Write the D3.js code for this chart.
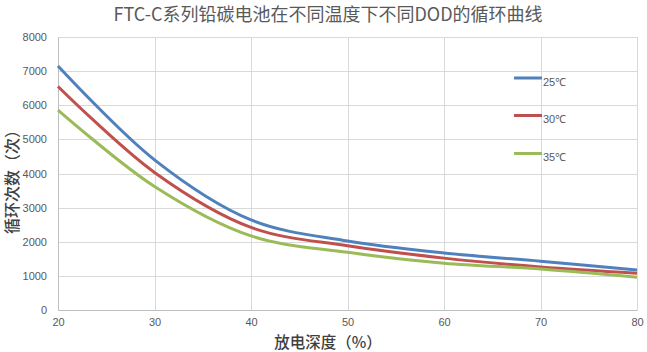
<!DOCTYPE html>
<html>
<head>
<meta charset="utf-8">
<script src="https://cdn.jsdelivr.net/npm/d3@7"></script>
<style>
  body { margin: 0; background: #fff; }
  text { font-family: "Noto Sans CJK SC", "Noto Sans", sans-serif; }
</style>
</head>
<body>
<div id="chart"></div>
<script>
// chart data
var dod = [20, 30, 40, 50, 60, 70, 80];
var cycles25 = [7150, 4400, 2640, 2020, 1670, 1430, 1170];
var cycles30 = [6550, 4030, 2420, 1880, 1520, 1260, 1080];
var cycles35 = [5860, 3620, 2170, 1690, 1370, 1200, 960];
var seriesNames = ["25℃", "30℃", "35℃"];
var xTicks = [20, 30, 40, 50, 60, 70, 80];
var yTicks = [0, 1000, 2000, 3000, 4000, 5000, 6000, 7000, 8000];

var svgWidth = 647;
var svgHeight = 352;
var margin = { top: 37, right: 10, bottom: 42, left: 58 };
var width = 637 - margin.left;
var height = 310 - margin.top;

var svg = d3.select("#chart")
    .append("svg")
    .attr("width", svgWidth)
    .attr("height", svgHeight);

var chartGroup = svg.append("g")
    .attr("transform", `translate(${margin.left}, ${margin.top})`);

var x = d3.scaleLinear().domain([20, 80]).range([0, width]);
var y = d3.scaleLinear().domain([0, 8000]).range([height, 0]);

// gridlines
chartGroup.append("g")
    .selectAll("line")
    .data(yTicks.filter(d => d > 0))
    .enter()
    .append("line")
    .attr("x1", 0)
    .attr("x2", width)
    .attr("y1", d => Math.round(y(d)) + 0.5)
    .attr("y2", d => Math.round(y(d)) + 0.5)
    .attr("stroke", "#d9d9d9");

chartGroup.append("g")
    .selectAll("line")
    .data(xTicks.filter(d => d > 20))
    .enter()
    .append("line")
    .attr("x1", d => Math.round(x(d)) + 0.5)
    .attr("x2", d => Math.round(x(d)) + 0.5)
    .attr("y1", 0)
    .attr("y2", height)
    .attr("stroke", "#d9d9d9");

// axes
var bottomAxis = d3.axisBottom(x).tickValues(xTicks).tickSize(0).tickPadding(8);
var leftAxis = d3.axisLeft(y).tickValues(yTicks).tickFormat(d3.format("d")).tickSize(0).tickPadding(11);

var gx = chartGroup.append("g")
    .attr("transform", `translate(0, ${height})`)
    .call(bottomAxis);
var gy = chartGroup.append("g").call(leftAxis);

[gx, gy].forEach(function (g) {
    g.select(".domain").attr("stroke", "#bfbfbf").attr("stroke-width", 1);
    g.selectAll("text")
        .attr("fill", "#595959")
        .style("font-size", "11px")
        .style("font-family", "'Liberation Sans Narrow', 'Liberation Sans', sans-serif");
});

// lines
var colors = ["#4f81bd", "#c0504d", "#9bbb59"];
var allSeries = [cycles25, cycles30, cycles35];

var line = d3.line()
    .x((d, i) => x(dod[i]))
    .y(d => y(d))
    .curve(d3.curveCatmullRom.alpha(0.5));

chartGroup.selectAll(".series")
    .data(allSeries)
    .enter()
    .append("path")
    .attr("class", "series")
    .attr("d", d => line(d))
    .attr("fill", "none")
    .attr("stroke", (d, i) => colors[i])
    .attr("stroke-width", 3)
    .attr("stroke-linejoin", "round");

// legend
var legendY = [78, 115.5, 153.5];
var legend = svg.append("g");
seriesNames.forEach(function (name, i) {
    legend.append("line")
        .attr("x1", 514)
        .attr("x2", 542)
        .attr("y1", legendY[i])
        .attr("y2", legendY[i])
        .attr("stroke", colors[i])
        .attr("stroke-width", 3);
    legend.append("text")
        .attr("x", 543)
        .attr("y", legendY[i] + 7.5)
        .attr("fill", "#595959")
        .style("font-size", "11px")
        .style("font-family", "'Liberation Sans', 'Noto Sans', sans-serif")
        .text(name);
});

// title
svg.append("text")
    .attr("x", 328)
    .attr("y", 21)
    .attr("text-anchor", "middle")
    .attr("fill", "#595959")
    .style("font-size", "18px")
    .text("FTC-C系列铅碳电池在不同温度下不同DOD的循环曲线");

// axis labels
svg.append("text")
    .attr("transform", "rotate(-90)")
    .attr("x", -178)
    .attr("y", 18)
    .attr("text-anchor", "middle")
    .attr("fill", "#404040")
    .style("font-size", "16px")
    .style("font-weight", "500")
    .text("循环次数（次）");

svg.append("text")
    .attr("x", 328)
    .attr("y", 348)
    .attr("text-anchor", "middle")
    .attr("fill", "#404040")
    .style("font-size", "15.5px")
    .style("font-weight", "500")
    .text("放电深度（%）");
</script>
</body>
</html>
